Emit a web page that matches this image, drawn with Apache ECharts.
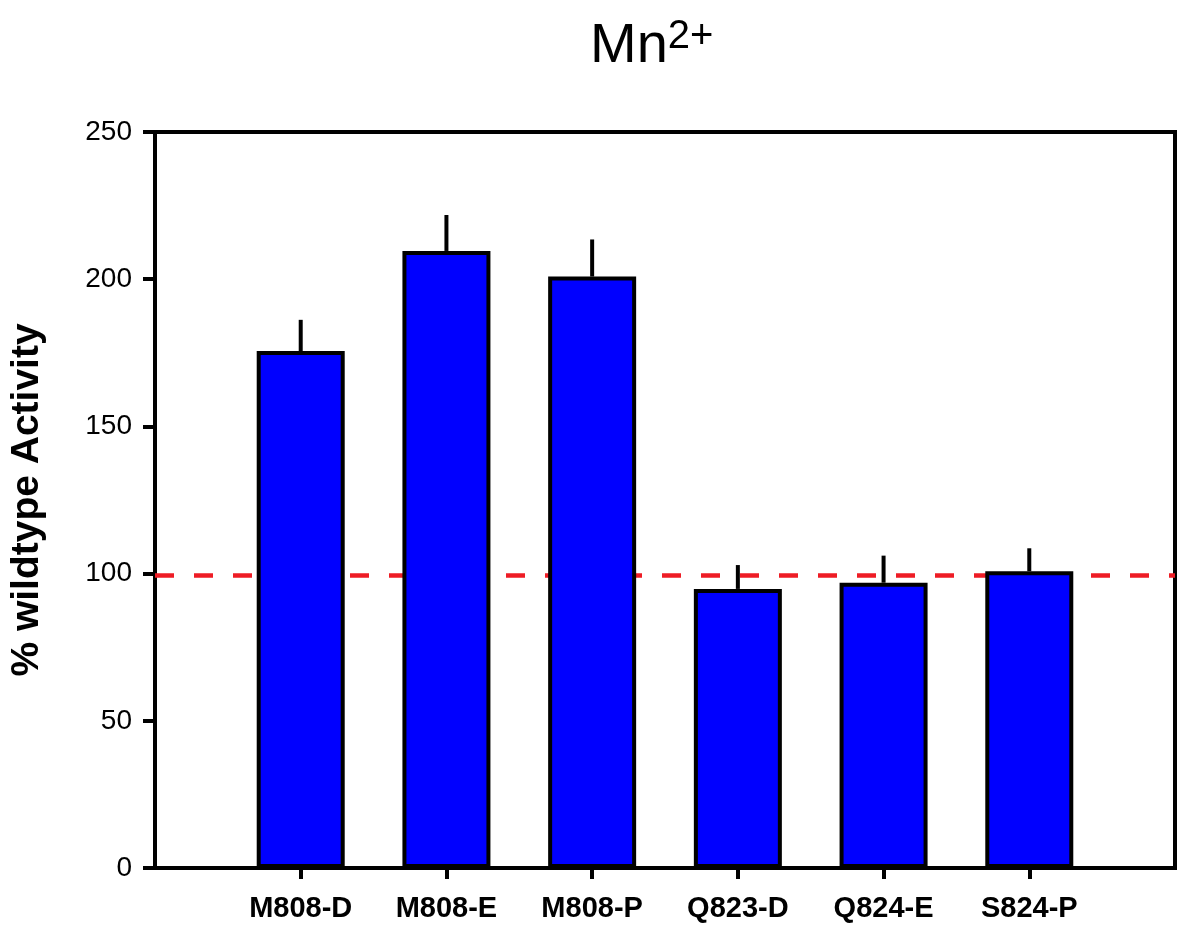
<!DOCTYPE html>
<html>
<head>
<meta charset="utf-8">
<script src="https://cdn.jsdelivr.net/npm/echarts@6/dist/echarts.min.js"></script>
<style>
html,body{margin:0;padding:0;background:#fff;}
#chart{width:1200px;height:929px;}
</style>
</head>
<body>
<div id="chart"></div>
<script>
const categories = ['M808-D', 'M808-E', 'M808-P', 'Q823-D', 'Q824-E', 'S824-P'];
const activity = [175.6, 209.6, 200.9, 94.8, 96.9, 100.8];
const errorUp = [10.6, 12.2, 12.6, 8.1, 9.2, 7.8];
const referenceLevel = 99.5;
const yTicks = [0, 50, 100, 150, 200, 250];

const axisCats = [''].concat(categories, ['']);
const FONT = '"Liberation Sans", Arial, Helvetica, sans-serif';

const chart = echarts.init(document.getElementById('chart'), null, {renderer: 'canvas'});
const option = {
  animation: false,
  backgroundColor: '#fff',
  title: {
    text: '{m|Mn}{s|2+}',
    left: 585,
    top: 10,
    textStyle: {
      fontWeight: 'normal',
      rich: {
        m: {fontFamily: FONT, fontSize: 56, fontWeight: 'normal', color: '#000', lineHeight: 60, verticalAlign: 'bottom'},
        s: {fontFamily: FONT, fontSize: 40, fontWeight: 'normal', color: '#000', lineHeight: 60, verticalAlign: 'top', padding: [2, 0, 0, 0]}
      }
    }
  },
  grid: {
    left: 155, right: 25, top: 132, bottom: 61,
    show: true, borderColor: '#000', borderWidth: 4, backgroundColor: 'transparent'
  },
  xAxis: {
    type: 'category',
    data: axisCats,
    boundaryGap: false,
    axisLine: {lineStyle: {color: '#000', width: 4}},
    axisTick: {
      length: 11, lineStyle: {color: '#000', width: 4},
      interval: function (i, v) { return v !== ''; }
    },
    axisLabel: {
      color: '#000', fontFamily: FONT, fontWeight: 'bold', fontSize: 29, margin: 26,
      interval: 0
    },
    splitLine: {show: false}
  },
  yAxis: {
    type: 'value',
    min: yTicks[0], max: yTicks[yTicks.length - 1], interval: 50,
    name: '% wildtype Activity',
    nameLocation: 'middle',
    nameGap: 108,
    nameTextStyle: {color: '#000', fontFamily: FONT, fontWeight: 'bold', fontSize: 39},
    axisLine: {show: true, lineStyle: {color: '#000', width: 4}},
    axisTick: {show: true, length: 12, lineStyle: {color: '#000', width: 4}},
    axisLabel: {color: '#000', fontFamily: FONT, fontSize: 28, margin: 23},
    splitLine: {show: false}
  },
  series: [
    {
      type: 'line',
      data: [],
      z: 1,
      markLine: {
        silent: true,
        z: 1,
        symbol: ['none', 'none'],
        label: {show: false},
        lineStyle: {color: '#ee1c25', width: 4.5, type: [19, 20]},
        data: [{yAxis: referenceLevel}]
      }
    },
    {
      type: 'bar',
      z: 3,
      barWidth: 88,
      data: activity.map((v, i) => [categories[i], v]),
      itemStyle: {color: '#0000ff', borderColor: '#000', borderWidth: 4}
    },
    {
      type: 'custom',
      z: 4,
      data: activity.map((v, i) => [categories[i], v, v + errorUp[i]]),
      renderItem: function (params, api) {
        const idx = axisCats.indexOf(categories[params.dataIndex]);
        const p0 = api.coord([idx, api.value(1)]);
        const p1 = api.coord([idx, api.value(2)]);
        return {
          type: 'line',
          shape: {x1: p0[0], y1: p0[1], x2: p1[0], y2: p1[1]},
          style: {stroke: '#000', lineWidth: 4}
        };
      }
    }
  ]
};
chart.setOption(option);
</script>
</body>
</html>
